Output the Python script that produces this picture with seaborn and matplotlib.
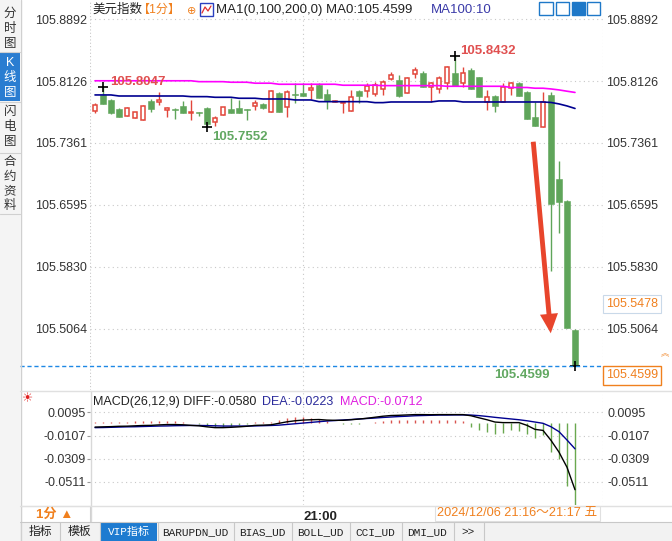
import numpy as np
import pandas as pd
import matplotlib
matplotlib.use("Agg")
import matplotlib.pyplot as plt
import seaborn as sns
from matplotlib.patches import Rectangle
from matplotlib.lines import Line2D

sns.set_style("white")
plt.rcParams['font.family'] = ['Liberation Sans', 'Noto Sans CJK SC', 'DejaVu Sans']

# ---------------- data ----------------
opens = [105.7759, 105.7954, 105.7892, 105.7781, 105.7694, 105.7666, 105.7645, 105.7880, 105.7867, 105.7765,
         105.7781, 105.7818, 105.7735, 105.7744, 105.7797, 105.7620, 105.7707, 105.7777, 105.7789, 105.7781,
         105.7818, 105.7843, 105.7748, 105.7979, 105.7799, 105.7962, 105.7979, 105.8009, 105.8083, 105.7966,
         105.7864, 105.7855, 105.7756, 105.8003, 105.8007, 105.7962, 105.8024, 105.8147, 105.8139, 105.7975,
         105.8213, 105.8226, 105.8057, 105.8024, 105.8099, 105.8226, 105.8105, 105.8262, 105.8172, 105.7871,
         105.7941, 105.7871, 105.8037, 105.8105, 105.7995, 105.7677, 105.7562, 105.7954, 105.6916, 105.6644,
         105.5050]
highs = [105.7851, 105.8047, 105.7900, 105.7797, 105.7806, 105.7744, 105.7824, 105.7900, 105.7995, 105.7809,
         105.7787, 105.7880, 105.7892, 105.7748, 105.7806, 105.7694, 105.7806, 105.7920, 105.7892, 105.7784,
         105.7892, 105.7849, 105.8016, 105.7995, 105.8016, 105.8106, 105.8106, 105.8102, 105.8106, 105.8028,
         105.7892, 105.7880, 105.8016, 105.8016, 105.8102, 105.8118, 105.8139, 105.8234, 105.8201, 105.8173,
         105.8299, 105.8250, 105.8108, 105.8189, 105.8312, 105.8432, 105.8299, 105.8283, 105.8180, 105.8016,
         105.7948, 105.8099, 105.8118, 105.8114, 105.7997, 105.7871, 105.7995, 105.7995, 105.7138, 105.6656,
         105.5062]
lows = [105.7735, 105.7839, 105.7719, 105.7686, 105.7688, 105.7663, 105.7639, 105.7748, 105.7830, 105.7678,
        105.7657, 105.7725, 105.7645, 105.7694, 105.7552, 105.7571, 105.7703, 105.7725, 105.7731, 105.7645,
        105.7768, 105.7784, 105.7740, 105.7744, 105.7676, 105.7851, 105.7941, 105.7904, 105.7917, 105.7781,
        105.7861, 105.7731, 105.7752, 105.7855, 105.7933, 105.7941, 105.7954, 105.8139, 105.7933, 105.7973,
        105.8160, 105.8046, 105.7871, 105.7975, 105.8024, 105.8070, 105.8057, 105.8022, 105.7923, 105.7768,
        105.7748, 105.7871, 105.7954, 105.7935, 105.7653, 105.7574, 105.7558, 105.5781, 105.6251, 105.5075,
        105.4599]
closes = [105.7830, 105.7839, 105.7728, 105.7686, 105.7797, 105.7740, 105.7822, 105.7777, 105.7892, 105.7797,
          105.7768, 105.7728, 105.7748, 105.7728, 105.7592, 105.7674, 105.7802, 105.7728, 105.7735, 105.7772,
          105.7851, 105.7789, 105.8003, 105.7748, 105.7987, 105.7948, 105.7945, 105.8037, 105.7920, 105.7880,
          105.7883, 105.7867, 105.7925, 105.7935, 105.8061, 105.8081, 105.8118, 105.8197, 105.7941, 105.8160,
          105.8257, 105.8049, 105.8099, 105.8160, 105.8297, 105.8070, 105.8226, 105.8024, 105.7925, 105.7933,
          105.7818, 105.8057, 105.8102, 105.7941, 105.7657, 105.7574, 105.7871, 105.6607, 105.6635, 105.5078,
          105.4599]
ma_pink = [105.8129, 105.8129, 105.8129, 105.8129, 105.8129, 105.8129, 105.8129, 105.8129, 105.8129, 105.8129,
           105.8129, 105.8129, 105.8129, 105.8118, 105.8118, 105.8118, 105.8118, 105.8111, 105.8111, 105.8111,
           105.8099, 105.8099, 105.8099, 105.8086, 105.8086, 105.8086, 105.8086, 105.8086, 105.8086, 105.8086,
           105.8086, 105.8074, 105.8074, 105.8074, 105.8074, 105.8074, 105.8069, 105.8069, 105.8069, 105.8069,
           105.8069, 105.8069, 105.8069, 105.8069, 105.8061, 105.8061, 105.8061, 105.8061, 105.8061, 105.8061,
           105.8061, 105.8061, 105.8046, 105.8046, 105.8046, 105.8037, 105.8037, 105.8028, 105.8016, 105.8000,
           105.7985]
ma_blue = [105.7954, 105.7954, 105.7954, 105.7941, 105.7941, 105.7941, 105.7941, 105.7941, 105.7941, 105.7941,
           105.7941, 105.7941, 105.7933, 105.7933, 105.7933, 105.7925, 105.7925, 105.7925, 105.7913, 105.7913,
           105.7913, 105.7904, 105.7904, 105.7904, 105.7904, 105.7892, 105.7892, 105.7892, 105.7871, 105.7871,
           105.7871, 105.7871, 105.7871, 105.7871, 105.7871, 105.7859, 105.7859, 105.7867, 105.7867, 105.7867,
           105.7867, 105.7867, 105.7867, 105.7880, 105.7880, 105.7880, 105.7867, 105.7867, 105.7867, 105.7867,
           105.7867, 105.7867, 105.7867, 105.7867, 105.7867, 105.7867, 105.7867, 105.7861, 105.7843, 105.7818,
           105.7787]
diff = [-0.0033, -0.0031, -0.0029, -0.0026, -0.0025, -0.0022, -0.0019, -0.0018, -0.0014, -0.0011,
        -0.0011, -0.0013, -0.0018, -0.0022, -0.0031, -0.0038, -0.0038, -0.0035, -0.0031, -0.0026,
        -0.0018, -0.0016, -0.0013, 0.0000, 0.0013, 0.0022, 0.0028, 0.0031, 0.0033, 0.0028,
        0.0026, 0.0026, 0.0031, 0.0037, 0.0044, 0.0053, 0.0062, 0.0068, 0.0070, 0.0073,
        0.0076, 0.0076, 0.0075, 0.0076, 0.0076, 0.0076, 0.0076, 0.0066, 0.0048, 0.0031,
        0.0011, 0.0006, 0.0006, 0.0006, -0.0018, -0.0053, -0.0062, -0.0149, -0.0252, -0.0384,
        -0.0580]
dea = [-0.0038, -0.0037, -0.0035, -0.0033, -0.0031, -0.0030, -0.0028, -0.0026, -0.0024, -0.0023,
       -0.0021, -0.0020, -0.0019, -0.0019, -0.0020, -0.0022, -0.0024, -0.0024, -0.0024, -0.0024,
       -0.0023, -0.0021, -0.0019, -0.0016, -0.0010, -0.0004, 0.0002, 0.0008, 0.0014, 0.0020,
       0.0024, 0.0029, 0.0033, 0.0038, 0.0042, 0.0046, 0.0051, 0.0055, 0.0059, 0.0062,
       0.0066, 0.0068, 0.0070, 0.0072, 0.0072, 0.0073, 0.0073, 0.0072, 0.0067, 0.0060,
       0.0052, 0.0045, 0.0038, 0.0031, 0.0022, 0.0011, 0.0000, -0.0030, -0.0073, -0.0146,
       -0.0223]
macd = [0.0010, 0.0012, 0.0012, 0.0014, 0.0012, 0.0016, 0.0018, 0.0016, 0.0020, 0.0024,
        0.0020, 0.0014, 0.0004, -0.0006, -0.0022, -0.0032, -0.0028, -0.0022, -0.0014, -0.0004,
        0.0010, 0.0010, 0.0012, 0.0032, 0.0046, 0.0052, 0.0052, 0.0046, 0.0038, 0.0016,
        0.0006, -0.0006, -0.0004, -0.0002, 0.0004, 0.0014, 0.0022, 0.0026, 0.0030, 0.0030,
        0.0030, 0.0030, 0.0030, 0.0028, 0.0028, 0.0026, 0.0024, -0.0030, -0.0059, -0.0074,
        -0.0094, -0.0082, -0.0059, -0.0065, -0.0094, -0.0132, -0.0103, -0.0249, -0.0313, -0.0547,
        -0.0712]
price_ticks = [105.8892, 105.8126, 105.7361, 105.6595, 105.5830, 105.5064]
macd_ticks = [0.0095, -0.0107, -0.0309, -0.0511]
time_tick_index = 26
time_tick_label = "21:00"
marked_high = [1, 45]
marked_low = [14, 60]

df = pd.DataFrame({"i": np.arange(len(opens)), "open": opens, "high": highs, "low": lows,
                   "close": closes, "ma_pink": ma_pink, "ma_blue": ma_blue,
                   "diff": diff, "dea": dea, "macd": macd})

RED = "#E2463B"
GREEN = "#5FA55A"
ORANGE = "#F0801E"

W, H = 672, 541
fig = plt.figure(figsize=(W / 100, H / 100), dpi=100)
fig.patch.set_facecolor("white")


def axpx(l, t, r, b):
    return fig.add_axes([l / W, 1 - b / H, (r - l) / W, (b - t) / H])


def rect_px(l, t, r, b, **kw):
    fig.add_artist(Rectangle((l / W, 1 - b / H), (r - l) / W, (b - t) / H,
                             transform=fig.transFigure, **kw))


def text_px(x, y, s, **kw):
    kw.setdefault("va", "center")
    fig.text(x / W, 1 - y / H, s, **kw)


def hline_px(x0, x1, y, **kw):
    fig.add_artist(Line2D([x0 / W, x1 / W], [1 - y / H, 1 - y / H], transform=fig.transFigure, **kw))


def vline_px(x, y0, y1, **kw):
    fig.add_artist(Line2D([x / W, x / W], [1 - y0 / H, 1 - y1 / H], transform=fig.transFigure, **kw))


# ---------------- main price panel ----------------
ax = axpx(90, 0, 603, 390)
ptop = 105.9127
ppx = 0.0012355
ax.set_ylim(ptop - ppx * 390, ptop)
ax.set_xlim(-0.625, 63.5)
for s in ax.spines.values():
    s.set_visible(False)

up = df[df.close >= df.open]
dn = df[df.close < df.open]
ax.vlines(up.i, up.low, up.high, color=RED, lw=1.0, zorder=2)
ax.vlines(dn.i, dn.low, dn.high, color=GREEN, lw=1.0, zorder=2)
ax.bar(up.i, up.close - up.open, bottom=up.open, width=0.62, facecolor="white",
       edgecolor=RED, linewidth=1.1, zorder=3)
ax.bar(dn.i, dn.open - dn.close, bottom=dn.close, width=0.75, facecolor=GREEN,
       edgecolor=GREEN, linewidth=0.4, zorder=3)

sns.lineplot(data=df, x="i", y="ma_pink", color="#FF00FF", lw=1.2, ax=ax, zorder=4)
sns.lineplot(data=df, x="i", y="ma_blue", color="#000090", lw=1.2, ax=ax, zorder=4)

ax.set_yticks(price_ticks)
ax.set_yticklabels([f"{v:.4f}" for v in price_ticks])
ax.tick_params(axis="y", labelleft=True, labelright=True, left=False, right=False,
               labelsize=9, labelcolor="#333333", pad=2, length=0)
ax.set_xticks([])
ax.set_xlabel("")
ax.set_ylabel("")
ax.grid(axis="y", ls=(0, (1, 3)), color="#C8C8C8", lw=0.8)
ax.axvline(time_tick_index, ls=(0, (1, 3)), color="#C8C8C8", lw=0.8, zorder=0)
ax.axvline(-0.625, ls=(0, (1, 2)), color="#C8C8C8", lw=0.8, zorder=0)
ax.axvline(63.5, ls=(0, (1, 2)), color="#C8C8C8", lw=0.8, zorder=0)

# high / low markers and labels
for i in marked_high:
    ax.plot(i, highs[i], marker="+", color="black", ms=7, mew=1.2, zorder=5)
for i in marked_low:
    ax.plot(i, lows[i], marker="+", color="black", ms=7, mew=1.2, zorder=5)
lab_kw = dict(textcoords="offset points", fontsize=9.5, fontweight="bold", va="center", zorder=6)
ax.annotate(f"{highs[1]:.4f}", (1, highs[1]), xytext=(5, 4), color="#E05050", ha="left", **lab_kw)
ax.annotate(f"{lows[14]:.4f}", (14, lows[14]), xytext=(4, -7), color="#62A862", ha="left", **lab_kw)
ax.annotate(f"{highs[45]:.4f}", (45, highs[45]), xytext=(3.5, 3.5), color="#E05050", ha="left", **lab_kw)
ax.annotate(f"{lows[60]:.4f}", (60, lows[60]), xytext=(-18, -6), color="#62A862", ha="right", **lab_kw)

# last price dashed line (extends left to the sidebar)
ax.plot([-0.136 * 64.125 - 0.625, 63.5], [closes[-1], closes[-1]], ls=(0, (3, 2)),
        color="#1E88E5", lw=1.0, clip_on=False, zorder=5)

# red arrow
ax.annotate("", xy=(57.0, 105.4975), xytext=(54.75, 105.7410),
            arrowprops=dict(arrowstyle="simple,head_width=1.3,head_length=1.4,tail_width=0.35",
                            color="#E8452C", lw=0), zorder=6)

# ---------------- MACD panel ----------------
ax2 = axpx(90, 391, 603, 505)
vz = 423.3
vpx = 1145.0
ax2.set_ylim((vz - 505) / vpx, (vz - 391) / vpx)
ax2.set_xlim(-0.625, 63.5)
for s in ax2.spines.values():
    s.set_visible(False)
pos = df[df.macd >= 0]
neg = df[df.macd < 0]
ax2.vlines(pos.i, 0, pos.macd, color="#D9534F", lw=1.0)
ax2.vlines(neg.i, 0, neg.macd, color="#6AA84F", lw=1.0)
sns.lineplot(data=df, x="i", y="dea", color="#000090", lw=1.0, ax=ax2, zorder=4)
sns.lineplot(data=df, x="i", y="diff", color="black", lw=1.0, ax=ax2, zorder=4)
ax2.set_yticks(macd_ticks)
ax2.set_yticklabels([f"{v:.4f}" for v in macd_ticks])
ax2.tick_params(axis="y", labelleft=True, labelright=True, left=True, right=False,
                labelsize=9, labelcolor="#333333", pad=1, length=2, color="#999999")
ax2.set_xticks([time_tick_index])
ax2.set_xticklabels([time_tick_label], ha="left", fontweight="bold", fontsize=9.5, color="#222222")
ax2.tick_params(axis="x", length=0, pad=4)
ax2.set_xlabel("")
ax2.set_ylabel("")
ax2.grid(axis="y", ls=(0, (1, 3)), color="#C8C8C8", lw=0.8)
ax2.axvline(time_tick_index, ls=(0, (1, 3)), color="#C8C8C8", lw=0.8, zorder=0)
ax2.axvline(63.5, ls=(0, (1, 2)), color="#C8C8C8", lw=0.8, zorder=0)

# ---------------- chrome: frame lines ----------------
vline_px(20.5, 0, 541, color="#D0D0D0", lw=1)
vline_px(90.5, 391, 521, color="#D8D8D8", lw=1)
hline_px(20, 672, 390.5, color="#E0E0E0", lw=1)
hline_px(20, 672, 505.5, color="#E0E0E0", lw=1)

# left sidebar
rect_px(0, 0, 20, 541, facecolor="#F4F4F4", edgecolor="none", zorder=-1)
rect_px(0, 53, 20, 101, facecolor="#2A7DD1", edgecolor="none")
side_kw = dict(ha="center", fontsize=9, linespacing=1.3)
text_px(10, 29, "分\n时\n图", color="#333333", **side_kw)
text_px(10, 78, "K\n线\n图", color="white", **side_kw)
text_px(10, 127, "闪\n电\n图", color="#333333", **side_kw)
text_px(10, 184, "合\n约\n资\n料", color="#333333", **side_kw)
for yy in [52, 102, 153, 214]:
    hline_px(0, 20, yy, color="#D0D0D0", lw=0.8)

# title row
text_px(92, 10, "美元指数", fontsize=9, color="#222222")
text_px(138, 10, "【1分】", fontsize=8.7, color=ORANGE)
text_px(187, 11, "⊕", fontsize=8, color=ORANGE, family="DejaVu Sans")
rect_px(200, 3, 213, 16, facecolor="white", edgecolor="#2A3FBF", lw=1)
fig.add_artist(Line2D([202 / W, 205 / W, 208 / W, 211 / W], [1 - 13 / H, 1 - 7 / H, 1 - 11 / H, 1 - 6 / H],
                      transform=fig.transFigure, color="#E03030", lw=0.9))
text_px(216, 10, "MA1(0,100,200,0) MA0:105.4599", fontsize=9.5, color="#222222")
text_px(431, 10, "MA100:10", fontsize=9.5, color="#3A3AA8")
for k, (l, r) in enumerate([(539, 553), (556, 569), (572, 585), (587, 600)]):
    fc = "#1E78C8" if k == 2 else "white"
    rect_px(l, 2, r, 15, facecolor=fc, edgecolor="#1E78C8", lw=1)

# MACD header
text_px(28, 399, "☀", fontsize=9, color="#E02020", ha="center", family="DejaVu Sans")
text_px(93, 402, "MACD(26,12,9) DIFF:-0.0580", fontsize=9, color="#222222")
text_px(262, 402, "DEA:-0.0223", fontsize=9, color="#2B2B9B")
text_px(340, 402, "MACD:-0.0712", fontsize=9, color="#E020E0")

# right side price boxes
text_px(606, 304, "105.5478", fontsize=9, color=ORANGE,
        bbox=dict(boxstyle="square,pad=0.25", fc="white", ec="#C9D9E9", lw=0.8))
text_px(606, 375.5, "105.4599", fontsize=9, color=ORANGE,
        bbox=dict(boxstyle="square,pad=0.25", fc="white", ec=ORANGE, lw=1))
text_px(665, 354, "︽", fontsize=6, color=ORANGE, ha="center",
        family=["Noto Sans CJK SC", "DejaVu Sans"])

# bottom axis row
rect_px(20.5, 506, 89.5, 523, facecolor="white", edgecolor="#D0D0D0", lw=0.8)
text_px(55, 514.5, "1分 ▲", fontsize=9.5, color=ORANGE, fontweight="bold", ha="center")
rect_px(435, 506, 600, 521, facecolor="white", edgecolor="#E0E0E0", lw=0.8)
text_px(437, 513.5, "2024/12/06 21:16～21:17 五", fontsize=9.2, color=ORANGE)

# bottom tabs
rect_px(20, 522, 672, 541, facecolor="#F2F2F2", edgecolor="none")
hline_px(20, 672, 522, color="#C8C8C8", lw=0.8)
tabs = ["指标", "模板", "VIP指标", "BARUPDN_UD", "BIAS_UD", "BOLL_UD", "CCI_UD", "DMI_UD", ">>"]
edges = [20, 59, 99, 157, 233, 291, 349, 401, 453, 483]
for k, t in enumerate(tabs):
    l, r = edges[k], edges[k + 1]
    if t == "VIP指标":
        rect_px(l + 1, 523, r, 541, facecolor="#1E7BD0", edgecolor="none")
        col = "white"
    else:
        col = "#222222"
    vline_px(r + 0.5, 522, 541, color="#C8C8C8", lw=0.8)
    text_px((l + r) / 2 + 0.5, 532, t, fontsize=8.5 if k < 2 else 8, color=col, ha="center",
            family=["Liberation Mono", "Noto Sans CJK SC", "DejaVu Sans"])

fig.savefig("out.png", dpi=100)
